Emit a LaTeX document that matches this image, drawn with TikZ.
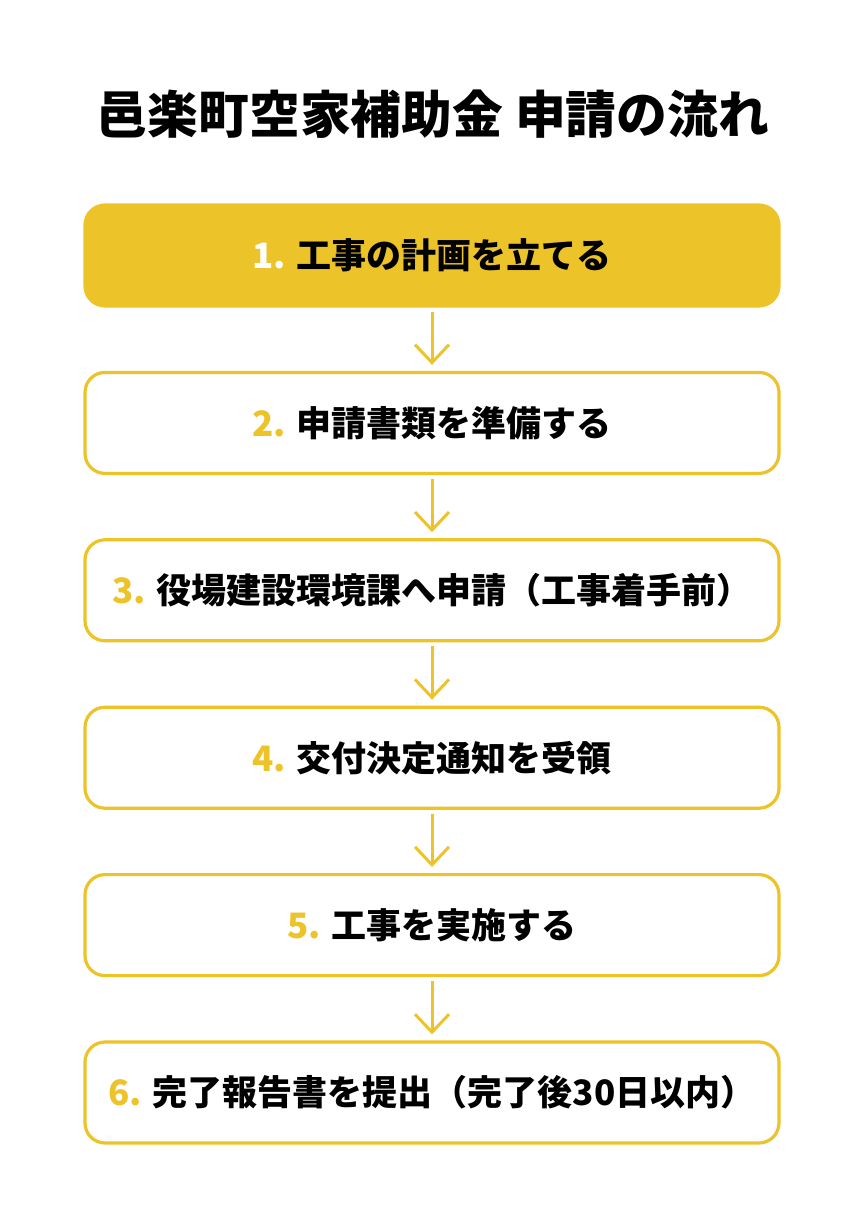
\documentclass[tikz,border=0pt]{standalone}
\usepackage{fontspec}
\setmainfont{Noto Sans CJK JP}
\usepackage{tikz}
\usetikzlibrary{arrows.meta,positioning}
\definecolor{stepyellow}{RGB}{237,195,42}
\tikzset{
  stepbox/.style={draw=stepyellow, line width=1.6pt, fill=white,
    rounded corners=10pt, minimum width=347pt, minimum height=50.5pt,
    font=\fontsize{17.5}{20}\selectfont\bfseries},
  firstbox/.style={stepbox, fill=stepyellow},
  flowarrow/.style={draw=stepyellow, line width=1.5pt,
    -{Straight Barb[length=9pt, width=17pt, line width=1.5pt]},
    shorten <=2pt, shorten >=3pt}
}
\newcommand{\stepnum}[1]{\textcolor{stepyellow}{#1}}

\begin{document}
\begin{tikzpicture}[x=0.5pt, y=-0.5pt, node distance=31.6pt]

  % Page frame.
  \useasboundingbox (0,0) rectangle (864,1216);

  % Title.
  \node[font=\fontsize{25.4}{29}\selectfont\bfseries] (title) at (433,114)
    {邑楽町空家補助金 申請の流れ};

  % Steps.
  \node[firstbox] (step1) at (432,255.5)
    {\textcolor{white}{1.} 工事の計画を立てる};
  \node[stepbox, below=of step1] (step2) {\stepnum{2.} 申請書類を準備する};
  \node[stepbox, below=of step2] (step3) {\stepnum{3.} 役場建設環境課へ申請（工事着手前）};
  \node[stepbox, below=of step3] (step4) {\stepnum{4.} 交付決定通知を受領};
  \node[stepbox, below=of step4] (step5) {\stepnum{5.} 工事を実施する};
  \node[stepbox, below=of step5] (step6) {\stepnum{6.} 完了報告書を提出（完了後30日以内）};

  % Arrows between steps.
  \foreach \a/\b in {1/2,2/3,3/4,4/5,5/6} {
    \draw[flowarrow] (step\a) -- (step\b);
  }

\end{tikzpicture}
\end{document}
